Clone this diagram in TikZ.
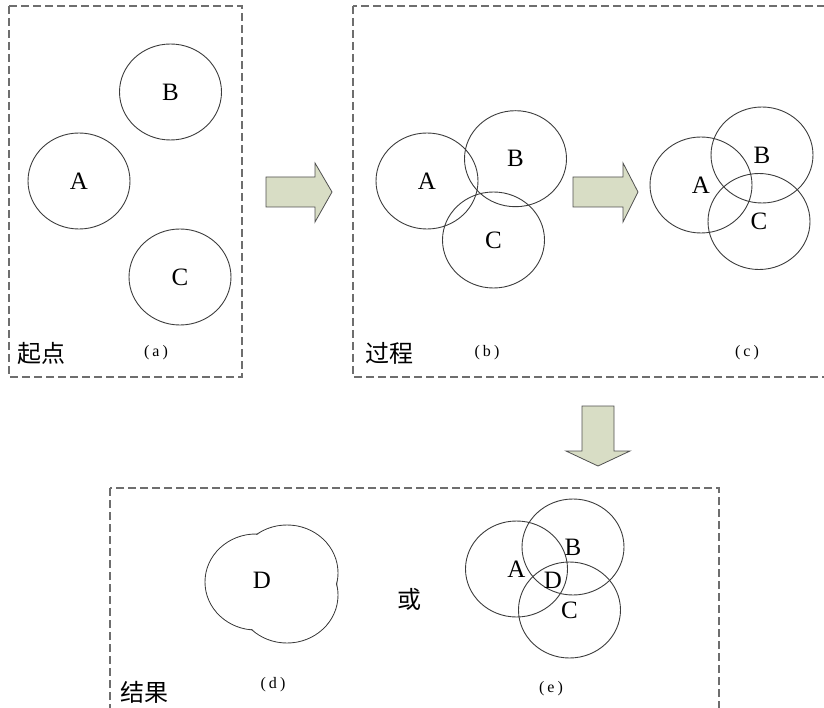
\documentclass[tikz,border=0pt]{standalone}
\usepackage{fontspec}
\setmainfont{Liberation Serif}
\newfontfamily\cjk{Noto Sans CJK SC}
\usetikzlibrary{shapes.geometric}
\definecolor{boxgray}{RGB}{110,110,110}
\definecolor{ringgray}{RGB}{60,60,60}
\definecolor{arrowfill}{RGB}{216,221,197}
\definecolor{arrowline}{RGB}{80,80,80}
\begin{document}
\begin{tikzpicture}[x=1pt,y=-1pt,
  frame/.style={draw=boxgray, line width=1.2pt, dash pattern=on 8pt off 4pt},
  ring/.style={draw=ringgray, line width=0.9pt, ellipse, minimum width=102pt, minimum height=96pt, inner sep=0pt, font=\fontsize{25}{30}\selectfont},
  lbl/.style={font=\fontsize{25}{30}\selectfont, inner sep=0pt},
  tag/.style={font=\cjk\fontsize{24}{28}\selectfont, inner sep=0pt},
  sub/.style={font=\fontsize{16}{18}\selectfont, inner sep=0pt},
  fatarrow/.style={fill=arrowfill, draw=arrowline, line width=0.8pt, line join=miter}]
\useasboundingbox (0,0) rectangle (824,708);
\clip (0,0) rectangle (824,708);
% frames
\draw[frame] (9,6) rectangle (242,377);
\draw[frame] (353,6) rectangle (830,377);
\draw[frame] (110,488) rectangle (719,720);
% (a)
\node[ring] (aB) at (170.5,92) {B};
\node[ring] (aA) at (79,181) {A};
\node[ring] (aC) at (180,277) {C};
% (b)
\node[ring] (bA) at (427,181) {A};
\node[ring] (bB) at (515.5,158.7) {B};
\node[ring] (bC) at (493.5,240) {C};
% (c)
\node[ring] (cA) at (701,185) {A};
\node[ring] (cB) at (762,155) {B};
\node[ring] (cC) at (759,221.5) {C};
% (e)
\node[ring] (eA) at (516.5,569) {A};
\node[ring] (eB) at (573,547) {B};
\node[ring] (eC) at (569.5,610) {C};
\node[lbl] (eD) at (553,580) {D};
% (d) blob: outer outline of three merged circles
\foreach \c in {(287,573),(256,582),(287,595)}
  \draw[ringgray, line width=0.9pt] \c ellipse [x radius=51pt, y radius=48pt];
\foreach \c in {(287,573),(256,582),(287,595)}
  \fill[white] \c ellipse [x radius=50.2pt, y radius=47.2pt];
\node[lbl] (dD) at (262,580) {D};
% block arrows
\draw[fatarrow] (266,177) -- (315,177) -- (315,163) -- (332,192) -- (315,222) -- (315,207) -- (266,207) -- cycle;
\draw[fatarrow] (573,177) -- (623,177) -- (623,163) -- (638,192) -- (623,222) -- (623,207) -- (573,207) -- cycle;
\draw[fatarrow] (582,406) -- (614,406) -- (614,451) -- (630,451) -- (598,466) -- (566,451) -- (582,451) -- cycle;
% captions
\node[tag] (t1) at (41,353) {起点};
\node[tag] (t2) at (389,353) {过程};
\node[tag] (t3) at (144,692) {结果};
\node[tag] (or) at (409,599) {或};
\node[sub] (la) at (156,353) {(\hspace{3pt}a\hspace{3pt})};
\node[sub] (lb) at (487,353) {(\hspace{3pt}b\hspace{3pt})};
\node[sub] (lc) at (747,353) {(\hspace{3pt}c\hspace{3pt})};
\node[sub] (ld) at (273,685) {(\hspace{3pt}d\hspace{3pt})};
\node[sub] (le) at (551,689) {(\hspace{3pt}e\hspace{3pt})};
\end{tikzpicture}
\end{document}
